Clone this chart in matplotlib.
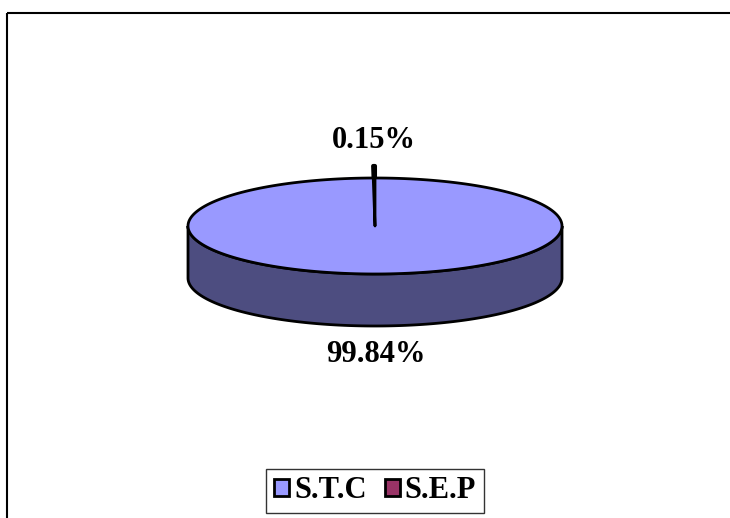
"""
3D-style pie of S.T.C vs S.E.P shares, drawn by hand with patches.
"""
import numpy as np
from matplotlib import pyplot as plt
from matplotlib.patches import Polygon, Rectangle, Patch

labels = ["S.T.C", "S.E.P"]
values = [99.84, 0.15]
top_colors = ["#9999FF", "#993366"]
side_colors = ["#4D4D80", "#4D1A33"]
explode = [0, 12]  # pixels

W, H = 730, 518
CX, CY = 375, 226
RX, RY = 187, 48
DEPTH = 52
FONT = dict(family="Liberation Serif", weight="bold")


def _pt(theta, dy=0.0, off=(0.0, 0.0)):
    """Point on the ellipse, theta in degrees clockwise from 12 o'clock."""
    t = np.radians(theta)
    return (CX + RX * np.sin(t) + off[0], CY - RY * np.cos(t) + dy + off[1])


def _arc(t0, t1, dy=0.0, off=(0.0, 0.0), n=200):
    ts = np.linspace(t0, t1, n)
    return [_pt(t, dy, off) for t in ts]


def draw_slice(ax, t0, t1, top, side, off, lw):
    # visible front side lies between 90 and 270 degrees
    a, b = max(t0, 90), min(t1, 270)
    if b > a:
        upper = _arc(a, b, 0, off)
        lower = _arc(b, a, DEPTH, off)
        ax.add_patch(Polygon(upper + lower, closed=True, facecolor=side,
                             edgecolor="black", linewidth=lw, zorder=2))
    centre = (CX + off[0], CY + off[1])
    face = [centre] + _arc(t0, t1, 0, off) + [centre]
    ax.add_patch(Polygon(face, closed=True, facecolor=top,
                         edgecolor="black", linewidth=lw, zorder=3,
                         joinstyle="round"))


def main():
    fig = plt.figure(figsize=(W / 100, H / 100), dpi=100)
    ax = fig.add_axes([0, 0, 1, 1])
    ax.set_xlim(0, W)
    ax.set_ylim(H, 0)
    ax.axis("off")

    ax.add_patch(Rectangle((7, 13), W, H, fill=False, edgecolor="black",
                           linewidth=1.5, zorder=1))

    total = sum(values)
    bounds = np.concatenate([[0], np.cumsum(values) / total * 360])

    # back slices first so the big one covers them
    order = np.argsort(values)
    for i in order:
        t0, t1 = bounds[i], bounds[i + 1]
        mid = np.radians((t0 + t1) / 2)
        off = (explode[i] * np.sin(mid), -explode[i] * np.cos(mid))
        lw = 2.0 if values[i] / total > 0.01 else 3.0
        draw_slice(ax, t0, t1, top_colors[i], side_colors[i], off, lw)

    for i in range(len(values)):
        t0, t1 = bounds[i], bounds[i + 1]
        mid = np.radians((t0 + t1) / 2)
        gap = 28
        x = CX + (RX + gap) * np.sin(mid) + explode[i] * np.sin(mid)
        if np.cos(mid) >= 0:
            y = CY - RY - explode[i] - gap + 2
        else:
            y = CY + RY + DEPTH + gap + 1
        ax.text(x, y, f"{values[i]:.2f}%", ha="center", va="center",
                fontsize=22, zorder=5, **FONT)

    handles = [Patch(facecolor=c, edgecolor="black", linewidth=2.0)
               for c in top_colors]
    leg = fig.legend(handles, labels, loc="center",
                     bbox_to_anchor=(375 / W, 1 - 491 / H), ncol=2,
                     prop=dict(size=22, **FONT), frameon=True, fancybox=False,
                     handlelength=0.5, handleheight=0.5, handletextpad=0.15,
                     columnspacing=0.6, borderpad=0.25, borderaxespad=0)
    leg.get_frame().set_edgecolor("black")
    leg.get_frame().set_linewidth(1.0)

    plt.savefig("out.png", dpi=100)
    plt.close()


if __name__ == "__main__":
    main()
